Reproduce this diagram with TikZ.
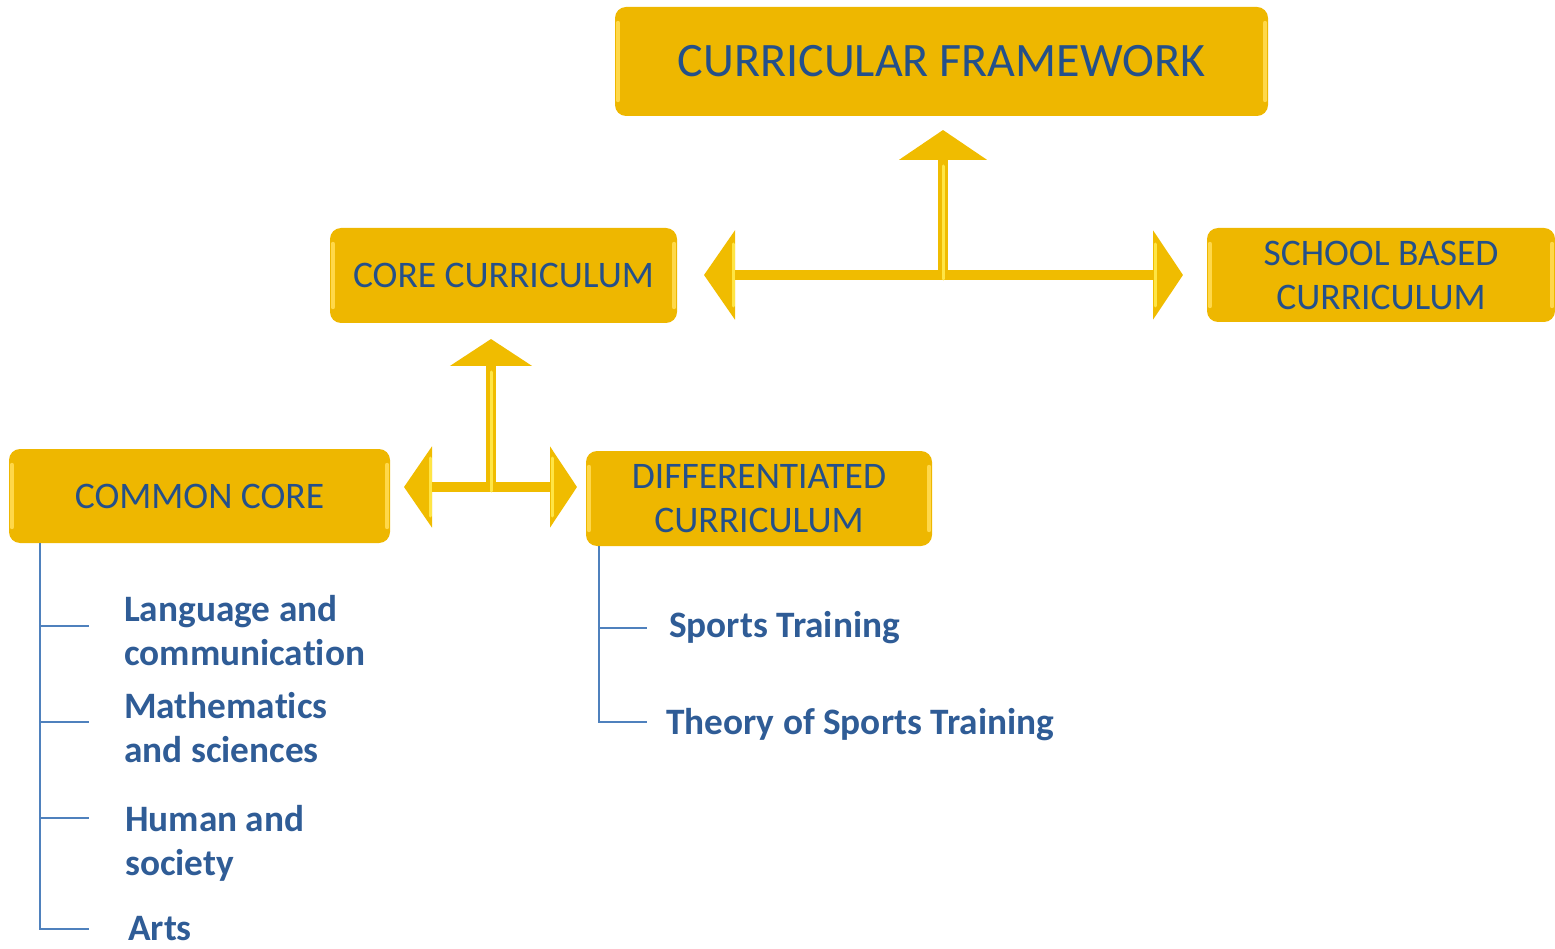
\documentclass[tikz,border=0pt]{standalone}
\usepackage{fontspec}
\setmainfont{Carlito}[Ligatures=NoCommon]
\usetikzlibrary{arrows.meta}

\definecolor{boxgold}{HTML}{EEB700}
\definecolor{arrowgold}{HTML}{F0BC00}
\definecolor{glint}{HTML}{FFE545}
\definecolor{edgelight}{HTML}{FFD84A}
\definecolor{boxtext}{HTML}{24508A}
\definecolor{itemtext}{HTML}{2F5C96}
\definecolor{treeblue}{HTML}{4F81BD}

\tikzset{
  goldbox/.style={draw=none, fill=boxgold, rounded corners=11pt, inner sep=0pt,
    align=center, text=boxtext, font=\fontsize{37.5}{44}\selectfont},
  itemlabel/.style={anchor=west, align=left, inner sep=0pt, text=itemtext,
    font=\bfseries\fontsize{37.3}{44}\selectfont},
  shaft/.style={draw=arrowgold, line width=10pt},
  shaftglint/.style={draw=glint, line width=3pt, line cap=round},
  edgeglint/.style={draw=edgelight, line width=4pt, line cap=round},
  treeline/.style={draw=treeblue, line width=1.4pt},
}

\begin{document}
\begin{tikzpicture}[x=1pt,y=-1pt]
\useasboundingbox (0,0) rectangle (1555,949);

% gold boxes
\node[goldbox, minimum width=653pt, minimum height=109pt,
      font=\fontsize{48}{56}\selectfont] (cf) at (941.5,61.5) {CURRICULAR FRAMEWORK};
\node[goldbox, minimum width=347pt, minimum height=95pt] (core) at (503.5,275.5) {CORE CURRICULUM};
\node[goldbox, minimum width=348pt, minimum height=94pt] (sbc) at (1381,275) {SCHOOL BASED\\CURRICULUM};
\node[goldbox, minimum width=381pt, minimum height=94pt] (comm) at (199.5,496) {COMMON CORE};
\node[goldbox, minimum width=346pt, minimum height=95pt] (diff) at (759,498.5) {DIFFERENTIATED\\CURRICULUM};

% bevel highlights on the box ends
\foreach \b in {cf,core,sbc,comm,diff}{
  \draw[edgeglint] ([xshift=3pt,yshift=-16pt]\b.north west) -- ([xshift=3pt,yshift=16pt]\b.south west);
  \draw[edgeglint] ([xshift=-3pt,yshift=-16pt]\b.north east) -- ([xshift=-3pt,yshift=16pt]\b.south east);
}

% upper T-connector
\coordinate (j1) at (943,275);
\coordinate (t1l) at (704,275);
\coordinate (t1r) at (1183,275);
\coordinate (t1u) at (943,130);
\draw[shaft, -{Triangle[length=31pt,width=88pt]}, arrowgold] (j1) -- (t1l);
\draw[shaft, -{Triangle[length=30pt,width=88pt]}, arrowgold] (j1) -- (t1r);
\draw[shaft, -{Triangle[length=30pt,width=87pt]}, arrowgold] (j1) -- (t1u);
\draw[shaftglint] ([yshift=-4pt]j1) -- (943,166);
\draw[shaftglint] (733,244) -- (733,306);
\draw[shaftglint] (1155,244) -- (1155,306);

% lower T-connector
\coordinate (j2) at (491,487);
\coordinate (t2l) at (404,487);
\coordinate (t2r) at (577,487);
\coordinate (t2u) at (491,339);
\draw[shaft, -{Triangle[length=28pt,width=80pt]}, arrowgold] (j2) -- (t2l);
\draw[shaft, -{Triangle[length=27pt,width=80pt]}, arrowgold] (j2) -- (t2r);
\draw[shaft, -{Triangle[length=27pt,width=81pt]}, arrowgold] (j2) -- (t2u);
\draw[shaftglint] ([yshift=-4pt]j2) -- (491,372);
\draw[shaftglint] (430,458) -- (430,516);
\draw[shaftglint] (552,458) -- (552,516);

% common core subjects
\node[itemlabel] (lang) at (124,631) {Language and\\communication};
\node[itemlabel] (math) at (124,728) {Mathematics\\and sciences};
\node[itemlabel] (hum) at (125,843) {Human and\\society};
\node[itemlabel] (arts) at (128,929) {Arts};

\coordinate (s1) at ([xshift=31pt]comm.south west);
\coordinate (b1) at (89,626);
\coordinate (b2) at (89,722);
\coordinate (b3) at (89,818);
\coordinate (b4) at (89,929);
\draw[treeline] (s1) |- (b4);
\draw[treeline] (s1 |- b1) -- (b1);
\draw[treeline] (s1 |- b2) -- (b2);
\draw[treeline] (s1 |- b3) -- (b3);

% differentiated subjects
\node[itemlabel] (sport) at (669,628) {Sports Training};
\node[itemlabel] (theory) at (666,725) {Theory of Sports Training};

\coordinate (s2) at ([xshift=13pt]diff.south west);
\coordinate (d1) at (647,628);
\coordinate (d2) at (647,722);
\draw[treeline] (s2) |- (d2);
\draw[treeline] (s2 |- d1) -- (d1);
\end{tikzpicture}
\end{document}
